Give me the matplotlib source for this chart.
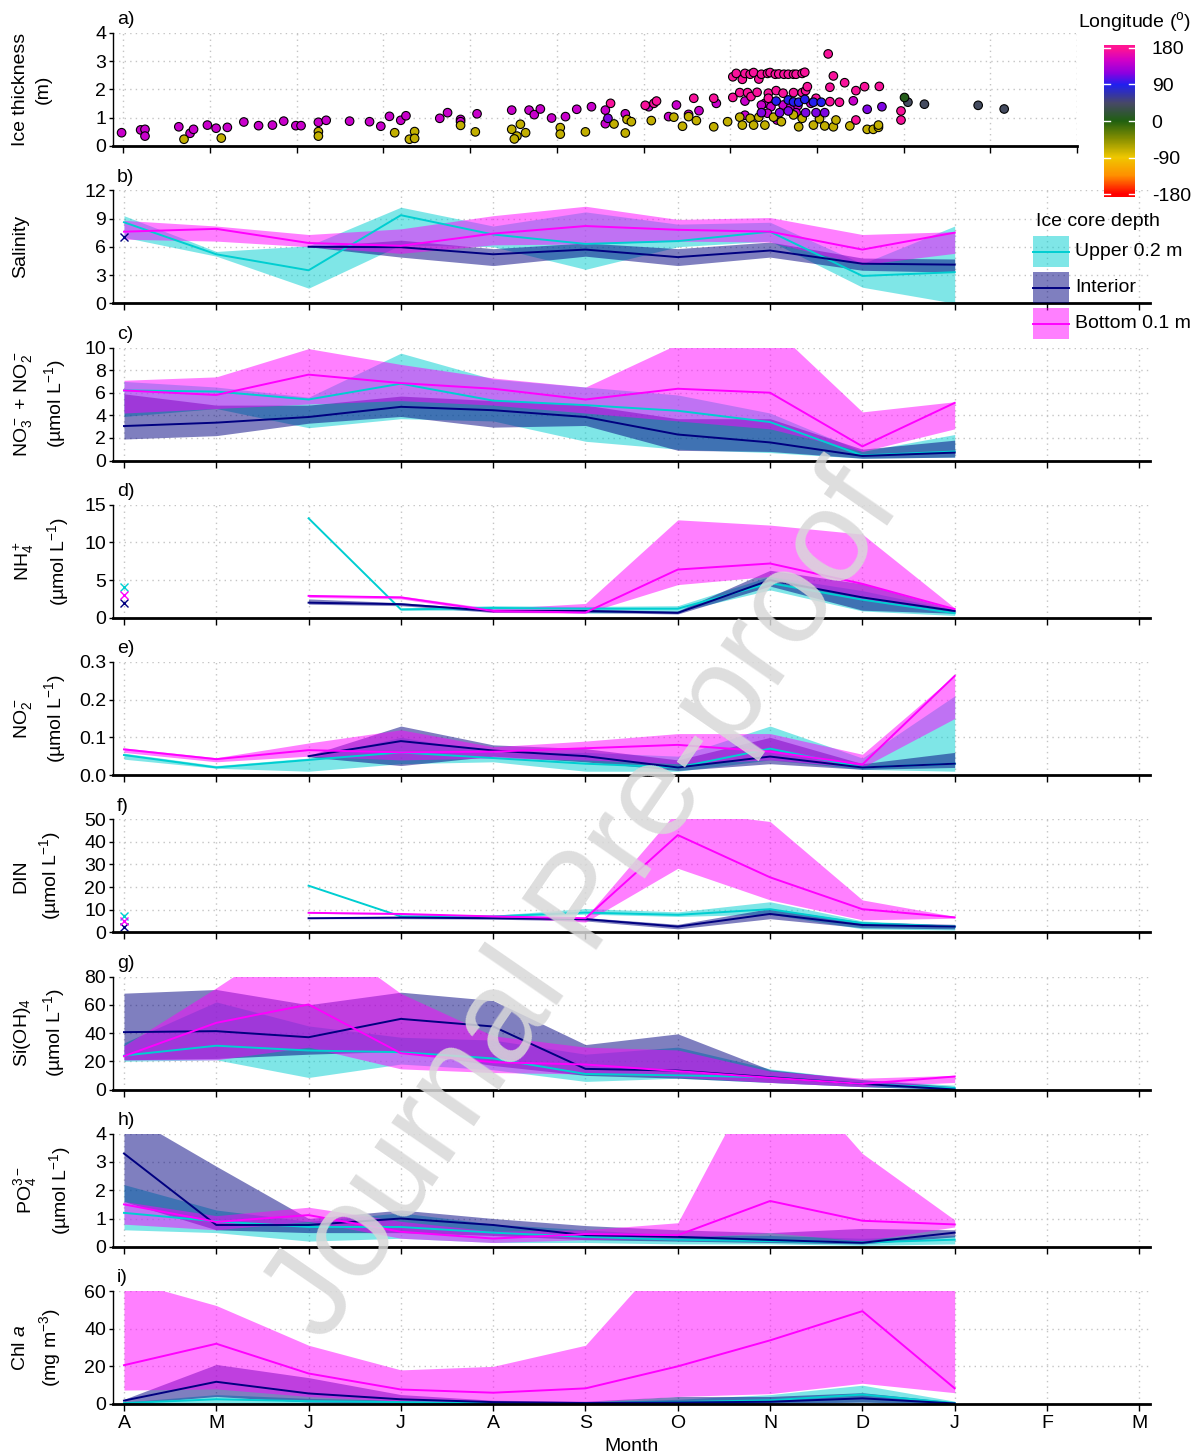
import numpy as np
import matplotlib
matplotlib.use("Agg")
import matplotlib.pyplot as plt
from matplotlib.colors import LinearSegmentedColormap, Normalize
from matplotlib.patches import Rectangle
from matplotlib.transforms import blended_transform_factory

plt.rcParams["font.family"] = ["Liberation Sans", "DejaVu Sans"]
plt.rcParams["mathtext.fontset"] = "custom"
plt.rcParams["mathtext.rm"] = "Liberation Sans"
plt.rcParams["mathtext.it"] = "Liberation Sans:italic"
plt.rcParams["mathtext.bf"] = "Liberation Sans:bold"
plt.rcParams["axes.unicode_minus"] = False

nan = np.nan

MONTH_LABELS = ["A", "M", "J", "J", "A", "S", "O", "N", "D", "J", "F", "M"]
months = np.arange(10)  # April .. January, monthly means

# ---- panel a: ice thickness of every core, grouped by longitude ----
lon_m_month = [-0.02, 0.20, 0.25, 0.25, 0.64, 0.77, 0.81, 0.97, 1.07, 1.20,
               1.39, 1.56, 1.72, 1.85, 1.99, 2.05, 2.25, 2.34, 2.61, 2.84,
               2.97, 3.07, 3.20, 3.26, 3.65, 3.74, 3.89, 3.89, 4.08, 4.48,
               4.68, 4.74, 4.81, 4.94, 5.10, 5.23, 5.40, 5.56, 5.56, 5.79,
               6.06, 6.29, 6.38, 6.52, 6.64, 6.84,
               7.17, 7.40, 7.36, 7.47, 7.61, 7.70, 7.78, 7.93, 8.42, 7.17,
               7.54, 7.43, 7.76]
lon_m_thick = [0.47, 0.57, 0.59, 0.35, 0.68, 0.45, 0.59, 0.74, 0.63, 0.66,
               0.85, 0.72, 0.74, 0.88, 0.72, 0.72, 0.84, 0.91, 0.88, 0.86,
               0.70, 1.05, 0.91, 1.07, 0.98, 1.18, 0.94, 0.86, 1.14, 1.27,
               1.27, 1.11, 1.31, 0.99, 1.04, 1.30, 1.39, 1.27, 0.79, 1.14,
               1.39, 1.04, 1.45, 1.12, 1.25, 1.51,
               1.59, 1.51, 1.45, 1.39, 1.45, 1.39, 1.43, 1.51, 1.60, 1.09,
               0.92, 1.16, 1.18]
lon_y_month = [0.70, 1.13, 2.25, 2.25, 3.13, 3.30, 3.36, 3.36, 3.89, 4.06,
               4.48, 4.58, 4.54, 4.51, 4.64, 5.04, 5.04, 5.33, 5.66, 5.79,
               5.81, 5.86, 6.09, 6.35, 6.45, 6.52, 6.61, 6.81,
               6.97, 7.11, 7.14, 7.23, 7.27, 7.33, 7.40, 7.50, 7.59, 7.73,
               7.83, 7.79, 7.96, 8.03, 8.09, 8.19, 8.22, 8.38, 8.58, 8.65,
               8.71, 8.71]
lon_y_thick = [0.24, 0.28, 0.51, 0.35, 0.47, 0.24, 0.51, 0.27, 0.73, 0.50,
               0.59, 0.77, 0.35, 0.25, 0.47, 0.65, 0.42, 0.50, 0.78, 0.46,
               0.94, 0.86, 0.90, 1.02, 0.70, 1.04, 0.90, 0.68,
               0.86, 1.02, 0.74, 0.98, 0.74, 1.02, 0.74, 1.02, 0.86, 1.10,
               0.98, 0.68, 0.74, 0.96, 0.71, 0.68, 0.92, 0.71, 0.59, 0.59,
               0.66, 0.74]
lon_p_month = [5.62, 6.02, 6.12, 6.15, 6.58, 6.81,
               7.03, 7.07, 7.14, 7.17, 7.23, 7.27, 7.33, 7.36, 7.43, 7.46,
               7.52, 7.56, 7.62, 7.67, 7.73, 7.76, 7.83, 7.86,
               8.13, 8.19, 8.32, 8.15, 8.45, 8.55, 8.72,
               7.03, 7.11, 7.20, 7.24, 7.31, 7.44, 7.44, 7.53, 7.61, 7.73,
               7.83, 7.87, 7.89, 7.99, 8.15, 8.26,
               8.97, 8.97, 8.45]
lon_p_thick = [1.51, 1.44, 1.51, 1.59, 1.69, 1.69,
               2.45, 2.57, 2.36, 2.57, 2.54, 2.60, 2.37, 2.54, 2.57, 2.60,
               2.54, 2.55, 2.54, 2.54, 2.54, 2.54, 2.57, 2.61,
               3.26, 2.48, 2.24, 2.08, 1.96, 2.10, 2.11,
               1.72, 1.89, 1.89, 1.75, 1.90, 1.87, 1.69, 1.96, 1.87, 1.89,
               1.89, 1.96, 2.10, 1.69, 1.57, 1.55,
               1.24, 0.92, 0.92]
lon_v_month = [5.59, 7.36, 7.57, 7.67, 7.87, 7.99, 8.09, 8.58, 8.75]
lon_v_thick = [0.98, 1.18, 1.18, 1.24, 1.18, 1.18, 1.18, 1.30, 1.39]
lon_b_month = [7.53, 7.67, 7.73, 7.79, 7.86, 7.96, 8.05]
lon_b_thick = [1.59, 1.63, 1.56, 1.55, 1.65, 1.55, 1.55]
lon_s_month = [9.05, 9.24, 9.86, 10.16]
lon_s_thick = [1.55, 1.48, 1.44, 1.31]
lon_g_month = [9.01]
lon_g_thick = [1.72]
# longitude (deg) of each of the groups above
lon_values = {"m": 145, "y": -70, "p": 175, "v": 115, "b": 90, "s": 40, "g": 5}

# ---- panels b-i: monthly median (mid) and range (lo, hi) per depth ----
# each tuple: (mid, lo, hi)
sal_upper = ([8.6, 5.2, 3.5, 9.35, 7.3, 6.3, 6.6, 7.6, 2.9, 3.3],
             [7.0, 5.0, 1.6, 6.2, 6.0, 3.6, 6.0, 6.6, 1.7, 0.0],
             [9.3, 5.5, 6.1, 10.2, 8.2, 9.7, 8.4, 8.6, 4.2, 8.2])
sal_interior = ([nan, nan, 6.0, 5.95, 5.2, 5.7, 4.9, 5.6, 4.2, 4.1],
                [nan, nan, 6.0, 4.9, 4.0, 5.0, 4.0, 4.9, 3.5, 3.3],
                [nan, nan, 6.0, 6.7, 5.8, 6.4, 5.8, 6.5, 4.8, 4.7])
sal_bottom = ([7.6, 7.9, 6.4, 6.1, 7.4, 8.2, 7.8, 7.6, 5.7, 7.5],
              [6.8, 6.6, 6.0, 5.3, 6.2, 6.3, 6.6, 6.5, 4.1, 5.3],
              [8.8, 8.2, 7.3, 7.9, 9.3, 10.3, 8.9, 9.1, 7.3, 7.6])
sal_single = [nan, 7.0, nan]

nox_upper = ([6.2, 6.1, 5.4, 6.8, 5.3, 4.9, 4.4, 3.4, 0.45, 0.8],
             [3.9, 4.6, 2.9, 3.7, 3.5, 1.7, 1.0, 0.7, 0.2, 0.3],
             [7.0, 6.5, 5.6, 9.5, 7.2, 6.5, 5.8, 4.2, 0.8, 2.3])
nox_interior = ([3.05, 3.35, 3.85, 4.75, 4.45, 3.85, 2.3, 1.6, 0.4, 0.7],
                [1.9, 2.2, 3.3, 3.9, 2.95, 3.1, 0.9, 0.8, 0.2, 0.3],
                [5.9, 4.9, 4.9, 5.7, 5.3, 4.9, 3.7, 3.7, 1.0, 1.8])
nox_bottom = ([6.2, 5.8, 7.6, 6.85, 6.35, 5.4, 6.35, 6.0, 1.25, 5.1],
              [4.2, 4.6, 5.0, 5.3, 4.9, 4.2, 3.5, 2.8, 0.8, 2.8],
              [7.1, 7.4, 9.9, 8.5, 7.3, 6.5, 10.3, 12.0, 4.3, 5.2])
nox_single = [nan, nan, nan]

nh4_upper = ([nan, nan, 13.2, 1.1, 1.3, 1.2, 1.2, 4.6, 2.4, 0.6],
             [nan, nan, nan, 1.0, 1.0, 0.6, 0.8, 3.7, 0.9, 0.3],
             [nan, nan, nan, 1.3, 1.6, 1.5, 1.6, 5.5, 3.6, 1.0])
nh4_interior = ([nan, nan, 2.0, 1.8, 0.9, 0.9, 0.65, 5.0, 2.7, 0.9],
                [nan, nan, 1.8, 1.6, 0.7, 0.7, 0.5, 4.2, 1.0, 0.6],
                [nan, nan, 2.5, 2.0, 1.1, 1.1, 0.9, 6.3, 4.5, 1.1])
nh4_bottom = ([nan, nan, 2.9, 2.7, 0.9, 0.7, 6.4, 7.2, 4.5, 1.15],
              [nan, nan, 2.7, 2.5, 0.7, 0.6, 4.4, 5.5, 2.5, 0.9],
              [nan, nan, 3.0, 2.9, 1.2, 1.9, 13.0, 12.3, 11.1, 1.3])
nh4_single = [4.1, 2.0, 3.0]

no2_upper = ([0.053, 0.02, 0.04, 0.06, 0.045, 0.03, 0.02, 0.07, 0.02, 0.03],
             [0.042, 0.018, 0.01, 0.03, 0.035, 0.01, 0.01, 0.04, 0.015, 0.01],
             [0.058, 0.025, 0.045, 0.10, 0.06, 0.06, 0.05, 0.13, 0.045, 0.21])
no2_interior = ([nan, nan, 0.05, 0.09, 0.065, 0.05, 0.02, 0.049, 0.02, 0.03],
                [nan, nan, 0.048, 0.025, 0.05, 0.035, 0.012, 0.03, 0.015, 0.02],
                [nan, nan, 0.052, 0.13, 0.08, 0.07, 0.04, 0.10, 0.03, 0.06])
no2_bottom = ([0.068, 0.042, 0.066, 0.06, 0.062, 0.071, 0.08, 0.062, 0.028, 0.263],
              [0.06, 0.035, 0.05, 0.04, 0.045, 0.04, 0.03, 0.04, 0.02, 0.15],
              [0.072, 0.046, 0.085, 0.12, 0.075, 0.09, 0.11, 0.11, 0.055, 0.265])
no2_single = [nan, nan, nan]

din_upper = ([nan, nan, 20.6, 7.0, 7.0, 8.7, 7.7, 10.2, 4.0, 2.5],
             [nan, nan, nan, 6.5, 6.5, 8.0, 7.0, 8.0, 1.5, 1.0],
             [nan, nan, nan, 7.5, 7.5, 10.5, 9.0, 13.5, 5.0, 3.0])
din_interior = ([nan, nan, 6.2, 6.5, 6.2, 5.8, 2.5, 8.1, 3.2, 2.5],
                [nan, nan, 6.0, 6.0, 5.8, 5.0, 1.5, 6.0, 2.0, 1.5],
                [nan, nan, 6.4, 7.0, 6.8, 6.5, 3.5, 10.5, 4.5, 3.5])
din_bottom = ([nan, nan, 8.6, 8.1, 7.0, 6.2, 43.0, 24.3, 10.2, 6.6],
              [nan, nan, 8.4, 7.8, 6.8, 4.5, 28.3, 14.3, 5.5, 6.2],
              [nan, nan, 8.8, 8.4, 7.3, 6.5, 54.0, 49.0, 14.3, 7.0])
din_single = [7.1, 2.2, 4.9]

sil_upper = ([24.0, 31.0, 27.6, 26.4, 22.0, 11.0, 10.0, 8.7, 4.0, 1.0],
             [20.0, 21.0, 8.5, 18.0, 14.0, 5.7, 8.0, 5.0, 2.0, 0.0],
             [33.0, 62.0, 45.0, 37.0, 35.0, 25.0, 30.0, 14.6, 7.0, 3.0])
sil_interior = ([40.6, 41.3, 37.0, 50.0, 44.6, 14.6, 13.4, 8.7, 4.0, 0.0],
                [21.0, 22.0, 25.0, 27.0, 17.0, 10.0, 8.0, 5.0, 2.0, 0.0],
                [68.2, 70.8, 60.0, 68.9, 63.0, 31.8, 39.4, 14.0, 7.0, 2.0])
sil_bottom = ([23.6, 47.2, 60.2, 25.7, 19.3, 17.7, 13.0, 8.3, 4.0, 9.2],
              [21.0, 21.0, 30.0, 14.6, 12.0, 11.0, 9.0, 5.0, 2.0, 5.0],
              [31.0, 72.0, 115.0, 68.0, 38.0, 30.0, 28.0, 13.0, 8.0, 10.0])
sil_single = [nan, nan, nan]

po4_upper = ([1.2, 0.9, 0.7, 0.7, 0.5, 0.35, 0.25, 0.2, 0.15, 0.25],
             [0.6, 0.5, 0.2, 0.3, 0.15, 0.15, 0.1, 0.1, 0.05, 0.1],
             [2.2, 1.3, 0.9, 1.2, 0.8, 0.6, 0.4, 0.4, 0.3, 0.4])
po4_interior = ([3.3, 0.77, 0.77, 1.0, 0.77, 0.41, 0.35, 0.24, 0.14, 0.5],
                [1.6, 0.6, 0.5, 0.5, 0.4, 0.25, 0.2, 0.15, 0.1, 0.35],
                [4.75, 2.85, 1.0, 1.3, 1.0, 0.75, 0.6, 0.5, 0.65, 0.6])
po4_bottom = ([1.5, 0.88, 1.12, 0.53, 0.29, 0.45, 0.41, 1.62, 0.92, 0.79],
              [0.8, 0.6, 0.9, 0.3, 0.15, 0.25, 0.3, 0.5, 0.2, 0.7],
              [1.6, 1.1, 1.4, 0.9, 0.55, 0.6, 0.85, 7.0, 3.3, 0.95])
po4_single = [nan, nan, nan]

chl_upper = ([0.5, 2.5, 1.5, 1.0, 0.5, 0.5, 1.0, 2.0, 5.0, 0.5],
             [0.0, 0.5, 0.2, 0.2, 0.1, 0.1, 0.2, 0.5, 1.0, 0.0],
             [1.0, 5.0, 3.0, 2.0, 1.0, 1.0, 2.5, 5.0, 10.0, 1.5])
chl_interior = ([1.8, 11.8, 5.6, 2.5, 1.0, 0.5, 0.8, 1.2, 3.0, 0.3],
                [0.0, 4.0, 1.0, 0.5, 0.2, 0.2, 0.2, 0.3, 1.0, 0.0],
                [2.5, 21.0, 14.0, 5.0, 2.0, 1.5, 4.0, 4.0, 6.0, 1.0])
chl_bottom = ([20.6, 32.0, 16.2, 7.7, 6.0, 8.3, 20.0, 33.8, 49.3, 8.3],
              [7.4, 8.0, 4.0, 1.5, 1.0, 1.0, 4.0, 5.5, 11.0, 6.0],
              [66.0, 52.3, 31.2, 18.1, 20.0, 31.2, 86.0, 100.0, 100.0, 100.0])
chl_single = [nan, nan, nan]

DEPTHS = ["Upper 0.2 m", "Interior", "Bottom 0.1 m"]
DEPTH_COLORS = ["#00CED1", "#000080", "#FF00FF"]

panels = [
    ("b)", "Salinity", (sal_upper, sal_interior, sal_bottom), sal_single, 12, [0, 3, 6, 9, 12], "%d"),
    ("c)", "NO$_3^-$ + NO$_2^-$\n(µmol L$^{-1}$)", (nox_upper, nox_interior, nox_bottom), nox_single, 10, [0, 2, 4, 6, 8, 10], "%d"),
    ("d)", "NH$_4^+$\n(µmol L$^{-1}$)", (nh4_upper, nh4_interior, nh4_bottom), nh4_single, 15, [0, 5, 10, 15], "%d"),
    ("e)", "NO$_2^-$\n(µmol L$^{-1}$)", (no2_upper, no2_interior, no2_bottom), no2_single, 0.3, [0, 0.1, 0.2, 0.3], "%.1f"),
    ("f)", "DIN\n(µmol L$^{-1}$)", (din_upper, din_interior, din_bottom), din_single, 50, [0, 10, 20, 30, 40, 50], "%d"),
    ("g)", "Si(OH)$_4$\n(µmol L$^{-1}$)", (sil_upper, sil_interior, sil_bottom), sil_single, 80, [0, 20, 40, 60, 80], "%d"),
    ("h)", "PO$_4^{3-}$\n(µmol L$^{-1}$)", (po4_upper, po4_interior, po4_bottom), po4_single, 4, [0, 1, 2, 3, 4], "%d"),
    ("i)", "Chl $a$\n(mg m$^{-3}$)", (chl_upper, chl_interior, chl_bottom), chl_single, 60, [0, 20, 40, 60], "%d"),
]

W, H = 1199, 1456
fig = plt.figure(figsize=(W / 100, H / 100), dpi=100)


def px_axes(left, top, right, bottom):
    return fig.add_axes([left / W, 1 - bottom / H, (right - left) / W, (bottom - top) / H])


def style_axis(ax, label, ylabel, ymax, yticks, fmt, xmax, last=False):
    ax.set_xlim(-0.119, xmax)
    ax.set_ylim(0, ymax)
    ax.set_xticks(range(12))
    ax.set_xticklabels(MONTH_LABELS if last else [])
    ax.set_yticks(yticks)
    ax.set_yticklabels([fmt % t for t in yticks])
    ax.grid(True, linestyle=(0, (1, 3)), color="#c4c4c4", linewidth=1.0)
    ax.set_axisbelow(True)
    for s in ["top", "right"]:
        ax.spines[s].set_visible(False)
    ax.spines["bottom"].set_linewidth(2.0)
    ax.spines["left"].set_linewidth(1.0)
    ax.tick_params(axis="both", labelsize=14, width=1.0, direction="out")
    ax.tick_params(axis="x", length=5, pad=3)
    ax.tick_params(axis="y", length=3, pad=2)
    ax.set_ylabel(ylabel, fontsize=14, linespacing=1.45)
    ax.yaxis.label.set_verticalalignment("top")
    ax.yaxis.set_label_coords(12 / W, 0.5,
                              transform=blended_transform_factory(fig.transFigure, ax.transAxes))
    ax.text(0.004, 1.04, label, transform=ax.transAxes, fontsize=14, va="bottom", ha="left")


# longitude colour scale
lon_cmap = LinearSegmentedColormap.from_list("lon", [
    (0.0, "#FF0000"), (0.125, "#FF9000"), (0.25, "#F0C800"), (0.375, "#889000"),
    (0.5, "#206010"), (0.625, "#484868"), (0.75, "#2020F0"), (0.833, "#9000E0"),
    (0.917, "#D000C8"), (1.0, "#FF1493")])
lon_norm = Normalize(-180, 180)

# ---- panel a ----
ax = px_axes(113, 33, 1077, 146)
groups = [("m", lon_m_month, lon_m_thick), ("y", lon_y_month, lon_y_thick),
          ("p", lon_p_month, lon_p_thick), ("v", lon_v_month, lon_v_thick),
          ("b", lon_b_month, lon_b_thick), ("s", lon_s_month, lon_s_thick),
          ("g", lon_g_month, lon_g_thick)]
for key, mon, thick in groups:
    ax.scatter(mon, thick, c=[lon_values[key]] * len(mon), cmap=lon_cmap, norm=lon_norm,
               s=38, edgecolors="black", linewidths=0.8, zorder=3, clip_on=False)
style_axis(ax, "a)", "Ice thickness\n(m)", 4, [0, 1, 2, 3, 4], "%d", 10.325)

# ---- panels b-i ----
for k, (label, ylabel, series, single, ymax, yticks, fmt) in enumerate(panels):
    top = 33 + 157.25 * (k + 1)
    ax = px_axes(113, top, 1150, top + 113)
    for (mid, lo, hi), color in zip(series, DEPTH_COLORS):
        ax.fill_between(months, lo, hi, color=color, alpha=0.5, linewidth=0)
        ax.plot(months, mid, color=color, linewidth=1.4)
    for val, color in zip(single, DEPTH_COLORS):
        if not np.isnan(val):
            ax.plot([0], [val], marker="x", color=color, markersize=6, mew=1.0, clip_on=False)
    style_axis(ax, label, ylabel, ymax, yticks, fmt, 11.116, last=(k == len(panels) - 1))
    if k == len(panels) - 1:
        ax.set_xlabel("Month", fontsize=14, labelpad=4)

# ---- longitude colour bar ----
cax = px_axes(1104, 45, 1135, 197)
grad = np.linspace(-187, 187, 300).reshape(-1, 1)
cax.imshow(grad, aspect="auto", cmap=lon_cmap, norm=lon_norm, origin="lower",
           extent=[0, 1, -187, 187])
cb_ticks = [-180, -90, 0, 90, 180]
for t in cb_ticks:
    cax.plot([0, 0.2], [t, t], color="white", lw=1)
    cax.plot([0.8, 1], [t, t], color="white", lw=1)
cax.set_xlim(0, 1)
cax.set_ylim(-187, 187)
cax.set_xticks([])
cax.set_yticks(cb_ticks)
cax.yaxis.tick_right()
cax.tick_params(axis="y", length=0, pad=12, labelsize=14)
for s in cax.spines.values():
    s.set_visible(False)
fig.text(1135 / W, 1 - 22 / H, "Longitude ($^{\\mathrm{o}}$)", ha="center", va="center", fontsize=14)

# ---- depth legend, drawn in its own pixel-scaled axes ----
lax = px_axes(1020, 200, 1199, 345)
lax.set_xlim(1020, 1199)
lax.set_ylim(345, 200)
lax.axis("off")
lax.text(1036, 221, "Ice core depth", fontsize=14, va="center", ha="left")
for i, (name, color) in enumerate(zip(DEPTHS, DEPTH_COLORS)):
    y0 = 236 + 36 * i
    lax.add_patch(Rectangle((1033, y0), 36, 31, facecolor=color, alpha=0.5, linewidth=0))
    lax.plot([1033, 1069], [y0 + 15.5, y0 + 15.5], color=color, lw=1.4)
    lax.text(1075, y0 + 15.5, name, fontsize=14, va="center", ha="left")

# watermark
fig.text(585 / W, 1 - 905 / H, "Journal Pre-proof", rotation=55.4, fontsize=95,
         color="#d8d8d8", alpha=0.85, ha="center", va="center", rotation_mode="anchor",
         zorder=10)

fig.savefig("out.png", dpi=100)
